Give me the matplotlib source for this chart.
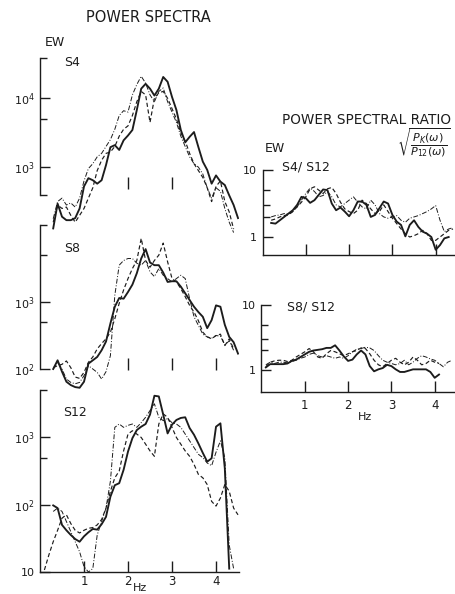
import numpy as np
import matplotlib
matplotlib.use("Agg")
import matplotlib.pyplot as plt
from matplotlib.ticker import FixedLocator, NullFormatter

### DATA ###
# frequency grid (Hz) shared by every curve
freq = [0.1, 0.2, 0.3, 0.4, 0.5, 0.6, 0.7, 0.8, 0.9, 1.0,
        1.1, 1.2, 1.3, 1.4, 1.5, 1.6, 1.7, 1.8, 1.9, 2.0,
        2.1, 2.2, 2.3, 2.4, 2.5, 2.6, 2.7, 2.8, 2.9, 3.0,
        3.1, 3.2, 3.3, 3.4, 3.5, 3.6, 3.7, 3.8, 3.9, 4.0,
        4.1, 4.2, 4.3, 4.4, 4.5]
nan = np.nan

# power spectra, log10 values
s4_solid = [nan, nan, 2.11, 2.47, 2.28, 2.23, 2.23, 2.26, 2.40, 2.72,
            2.84, 2.81, 2.76, 2.81, 3.03, 3.29, 3.32, 3.25, 3.39, 3.46,
            3.54, 3.83, 4.14, 4.21, 4.14, 4.04, 4.14, 4.31, 4.24, 4.02,
            3.83, 3.54, 3.36, 3.44, 3.51, 3.29, 3.08, 2.96, 2.76, 2.88,
            2.79, 2.74, 2.59, 2.45, 2.26]
s4_dashed = [nan, nan, 2.20, 2.45, 2.40, 2.42, 2.30, 2.20, 2.30, 2.40,
             2.55, 2.70, 2.95, 3.10, 3.20, 3.22, 3.30, 3.45, 3.55, 3.60,
             3.75, 3.95, 4.10, 4.05, 3.65, 4.00, 4.08, 4.10, 4.00, 3.85,
             3.70, 3.50, 3.38, 3.20, 3.05, 2.95, 2.85, 2.70, 2.50, 2.72,
             2.80, 2.50, 2.35, 2.10, nan]
s4_dashdot = [nan, nan, 2.25, 2.50, 2.55, 2.45, 2.48, 2.42, 2.55, 2.80,
              2.98, 3.05, 3.15, 3.20, 3.30, 3.40, 3.55, 3.75, 3.82, 3.80,
              4.05, 4.20, 4.32, 4.22, 4.05, 3.95, 4.10, 4.15, 3.95, 3.80,
              3.65, 3.45, 3.30, 3.15, 3.05, 3.00, 2.90, 2.70, 2.55, 2.70,
              2.65, 2.40, 2.20, 2.05, nan]

s8_solid = [nan, nan, 2.00, 2.13, 1.96, 1.81, 1.76, 1.73, 1.72, 1.81,
            2.08, 2.13, 2.18, 2.28, 2.41, 2.68, 2.93, 3.06, 3.05, 3.15,
            3.26, 3.43, 3.65, 3.79, 3.59, 3.55, 3.55, 3.44, 3.30, 3.31,
            3.31, 3.23, 3.13, 3.03, 2.93, 2.85, 2.78, 2.61, 2.73, 2.95,
            2.93, 2.66, 2.48, 2.40, 2.23]
s8_dashed = [nan, nan, 2.02, 2.05, 2.07, 2.12, 2.02, 1.88, 1.86, 1.95,
             2.10, 2.18, 2.30, 2.38, 2.45, 2.55, 2.75, 2.98, 3.18, 3.35,
             3.50, 3.62, 3.95, 3.62, 3.52, 3.62, 3.70, 3.88, 3.60, 3.35,
             3.30, 3.20, 3.08, 2.95, 2.85, 2.72, 2.55, 2.48, 2.45, 2.50,
             2.52, 2.35, 2.45, 2.30, nan]
s8_dashdot = [nan, nan, 2.00, 2.10, 2.00, 1.85, 1.80, 1.78, 1.80, 1.90,
              2.05, 2.00, 1.95, 1.85, 1.96, 2.20, 3.10, 3.55, 3.62, 3.65,
              3.65, 3.58, 3.55, 3.62, 3.45, 3.38, 3.50, 3.40, 3.35, 3.30,
              3.35, 3.40, 3.35, 3.05, 2.78, 2.65, 2.52, 2.48, 2.46, 2.50,
              2.49, 2.36, 2.42, 2.28, nan]

s12_solid = [nan, nan, 1.99, 1.95, 1.70, 1.62, 1.55, 1.49, 1.45, 1.53,
             1.59, 1.64, 1.63, 1.71, 1.82, 2.12, 2.29, 2.32, 2.52, 2.79,
             2.99, 3.11, 3.16, 3.20, 3.34, 3.62, 3.61, 3.34, 3.06, 3.19,
             3.26, 3.29, 3.30, 3.14, 3.04, 2.91, 2.77, 2.64, 2.69, 3.16,
             3.21, 2.54, 1.05, nan, nan]
s12_dashed = [1.03, 1.25, 1.45, 1.62, 1.80, 1.85, 1.72, 1.62, 1.58, 1.62,
              1.65, 1.66, 1.70, 1.78, 1.95, 2.20, 2.40, 2.50, 2.80, 3.05,
              3.10, 3.05, 3.00, 2.90, 2.80, 2.72, 3.20, 3.35, 3.30, 3.15,
              3.00, 2.90, 2.80, 2.72, 2.60, 2.45, 2.40, 2.30, 2.05, 1.98,
              2.10, 2.30, 2.20, 1.95, 1.85]
s12_dashdot = [nan, nan, 1.90, 1.95, 1.90, 1.75, 1.60, 1.45, 1.30, 1.08,
               1.00, 1.05, 1.55, 1.75, 1.95, 2.35, 3.15, 3.20, 3.15, 3.18,
               3.20, 3.15, 3.22, 3.30, 3.40, 3.50, 3.30, 3.25, 3.28, 3.22,
               3.20, 3.15, 3.05, 2.95, 2.85, 2.75, 2.70, 2.62, 2.58, 2.78,
               2.95, 2.70, 1.40, 1.05, nan]

# spectral ratios, log10 values
r4_solid = [nan, 0.21, 0.20, 0.25, 0.30, 0.35, 0.40, 0.48, 0.60, 0.58,
            0.51, 0.55, 0.63, 0.71, 0.70, 0.50, 0.40, 0.44, 0.38, 0.31,
            0.40, 0.53, 0.53, 0.48, 0.30, 0.33, 0.43, 0.53, 0.50, 0.33,
            0.23, 0.18, 0.01, 0.18, 0.25, 0.15, 0.08, 0.05, 0.00, -0.19,
            -0.12, -0.02, 0.00, nan, nan]
r4_dashed = [nan, 0.25, 0.27, 0.30, 0.32, 0.33, 0.38, 0.45, 0.52, 0.60,
             0.72, 0.75, 0.70, 0.65, 0.72, 0.74, 0.65, 0.52, 0.42, 0.38,
             0.35, 0.40, 0.55, 0.50, 0.42, 0.35, 0.38, 0.48, 0.38, 0.28,
             0.20, 0.12, 0.05, 0.00, 0.02, 0.05, 0.10, 0.05, -0.05, -0.05,
             0.00, 0.05, 0.10, 0.12, nan]
r4_dashdot = [nan, 0.30, 0.32, 0.33, 0.35, 0.34, 0.38, 0.45, 0.55, 0.65,
              0.73, 0.68, 0.60, 0.62, 0.68, 0.60, 0.48, 0.45, 0.50, 0.55,
              0.60, 0.52, 0.45, 0.42, 0.55, 0.48, 0.35, 0.30, 0.28, 0.30,
              0.32, 0.25, 0.22, 0.28, 0.30, 0.32, 0.35, 0.38, 0.42, 0.47,
              0.25, 0.08, 0.12, 0.14, nan]

r8_solid = [0.04, 0.09, 0.09, 0.09, 0.09, 0.10, 0.14, 0.16, 0.20, 0.24,
            0.28, 0.30, 0.31, 0.32, 0.34, 0.34, 0.38, 0.30, 0.21, 0.14,
            0.16, 0.24, 0.30, 0.24, 0.06, -0.02, 0.01, 0.03, 0.08, 0.06,
            0.01, -0.03, -0.03, -0.01, 0.01, 0.01, 0.01, 0.01, -0.03, -0.12,
            -0.07, nan, nan, nan, nan]
r8_dashed = [0.05, 0.12, 0.14, 0.15, 0.15, 0.13, 0.15, 0.20, 0.24, 0.28,
             0.33, 0.28, 0.20, 0.18, 0.25, 0.30, 0.28, 0.25, 0.22, 0.25,
             0.28, 0.30, 0.34, 0.33, 0.25, 0.15, 0.08, 0.05, 0.10, 0.15,
             0.18, 0.12, 0.08, 0.12, 0.20, 0.15, 0.08, 0.10, 0.15, 0.12,
             0.10, nan, nan, nan, nan]
r8_dashdot = [0.08, 0.12, 0.10, 0.12, 0.12, 0.11, 0.13, 0.15, 0.18, 0.20,
              0.24, 0.26, 0.22, 0.20, 0.22, 0.20, 0.18, 0.20, 0.18, 0.22,
              0.28, 0.32, 0.33, 0.35, 0.34, 0.30, 0.22, 0.15, 0.12, 0.10,
              0.08, 0.10, 0.15, 0.08, 0.12, 0.18, 0.22, 0.20, 0.17, 0.15,
              0.10, 0.05, 0.12, 0.15, nan]

### LAYOUT ###
W, H = 456, 594
INK = '#1c1c1c'

fig = plt.figure(figsize=(W / 100, H / 100), dpi=100)
fig.patch.set_facecolor('white')


def px_axes(x0, x1, y_top, y_bot):
    # place an axes box given in pixel units of the original scan
    ax = fig.add_axes([x0 / W, 1 - y_bot / H, (x1 - x0) / W, (y_bot - y_top) / H])
    ax.patch.set_visible(False)
    ax.set_yscale('log')
    for side in ['top', 'right']:
        ax.spines[side].set_visible(False)
    for side in ['left', 'bottom']:
        ax.spines[side].set_linewidth(1.0)
        ax.spines[side].set_color(INK)
    return ax


def draw_curves(ax, solid, dashed, dashdot):
    ax.plot(freq, 10 ** np.array(dashdot), color=INK, lw=0.7, ls=(0, (5, 1.8, 1, 1.8)))
    ax.plot(freq, 10 ** np.array(dashed), color=INK, lw=0.85, ls=(0, (3.5, 2.2)))
    ax.plot(freq, 10 ** np.array(solid), color=INK, lw=1.35)


def y_axis(ax, major, labels, minor, bounds):
    ax.spines['left'].set_bounds(*bounds)
    ax.set_yticks(major, labels)
    ax.yaxis.set_minor_locator(FixedLocator(minor))
    ax.yaxis.set_minor_formatter(NullFormatter())
    ax.tick_params(axis='y', which='major', direction='in', length=7, width=1,
                   color=INK, labelsize=8, labelcolor=INK, pad=4)
    ax.tick_params(axis='y', which='minor', direction='in', length=5, width=1, color=INK)


# --- power spectra (left column) ---
ax4 = px_axes(40, 238.9, 57, 236)
ax4.set_xlim(0, 4.52)
ax4.set_ylim(10 ** 2.0, 10 ** 4.6)
draw_curves(ax4, s4_solid, s4_dashed, s4_dashdot)
y_axis(ax4, [1e3, 1e4], [r'$10^3$', r'$10^4$'], [10 ** 2.6, 5e3, 10 ** 4.58], (10 ** 2.6, 10 ** 4.58))
ax4.spines['bottom'].set_position(('data', 10 ** 2.77))
ax4.spines['bottom'].set_visible(False)
ax4.set_xticks([2, 3], ['', ''])
ax4.tick_params(axis='x', direction='inout', length=9, width=1, color=INK)

ax8 = px_axes(40, 238.9, 225, 395.8)
ax8.set_xlim(0, 4.52)
ax8.set_ylim(10 ** 1.6, 10 ** 4.15)
draw_curves(ax8, s8_solid, s8_dashed, s8_dashdot)
y_axis(ax8, [1e2, 1e3], [r'$10^2$', r'$10^3$'], [5e2, 5e3, 10 ** 4.15], (1e2, 10 ** 4.15))
ax8.spines['bottom'].set_position(('data', 10 ** 2.07))
ax8.spines['bottom'].set_visible(False)
ax8.set_xticks([2, 3, 4], ['', '', ''])
ax8.tick_params(axis='x', direction='inout', length=9, width=1, color=INK)

ax12 = px_axes(40, 238.9, 387, 572)
ax12.set_xlim(0, 4.52)
ax12.set_ylim(10 ** 1.0, 10 ** 3.75)
draw_curves(ax12, s12_solid, s12_dashed, s12_dashdot)
y_axis(ax12, [1e1, 1e2, 1e3], ['10', r'$10^2$', r'$10^3$'], [5e2, 10 ** 3.71], (10, 10 ** 3.71))
ax12.set_xticks([1, 2, 3, 4], ['1', '2', '3', '4'])
ax12.tick_params(axis='x', direction='in', length=8, width=1, color=INK,
                 labelsize=8.5, labelcolor=INK, pad=2)

# --- spectral ratios (right column) ---
ar4 = px_axes(262.5, 459.5, 168.7, 255.1)
ar4.set_xlim(0, 4.55)
ar4.set_ylim(10 ** -0.27, 10 ** 1.02)
draw_curves(ar4, r4_solid, r4_dashed, r4_dashdot)
y_axis(ar4, [1, 10], ['1', '10'], [2, 3, 5], (10 ** -0.27, 10))
ar4.set_xticks([1, 2, 3, 4], ['', '', '', ''])
ar4.tick_params(axis='x', direction='in', length=8, width=1, color=INK)

ar8 = px_axes(261.5, 458.5, 303.7, 392.1)
ar8.set_xlim(0, 4.55)
ar8.set_ylim(10 ** -0.34, 10 ** 1.02)
draw_curves(ar8, r8_solid, r8_dashed, r8_dashdot)
y_axis(ar8, [1, 10], ['1', '10'], [2, 3, 5], (10 ** -0.34, 10))
ar8.set_xticks([1, 2, 3, 4], ['1', '2', '3', '4'])
ar8.tick_params(axis='x', direction='in', length=8, width=1, color=INK,
                labelsize=8.5, labelcolor=INK, pad=5)

# --- text ---
def px_text(x, y, s, size=9, ha='center'):
    fig.text(x / W, 1 - y / H, s, ha=ha, va='center', fontsize=size, color=INK)


px_text(148, 18, 'POWER SPECTRA', 10.5)
px_text(55, 42, 'EW', 9)
px_text(72, 63, 'S4', 9)
px_text(72, 248, 'S8', 9)
px_text(75, 412, 'S12', 9)
px_text(140, 588, 'Hz', 8)

px_text(282, 120, 'POWER SPECTRAL RATIO', 9.8, ha='left')
px_text(275, 149, 'EW', 9)
px_text(306, 167, 'S4/ S12', 9)
px_text(311, 307, 'S8/ S12', 9)
px_text(365, 417, 'Hz', 8)
px_text(397, 143, r'$\sqrt{\dfrac{P_K(\omega)}{P_{12}(\omega)}}$', 8, ha='left')

fig.savefig('out.png', dpi=100)
